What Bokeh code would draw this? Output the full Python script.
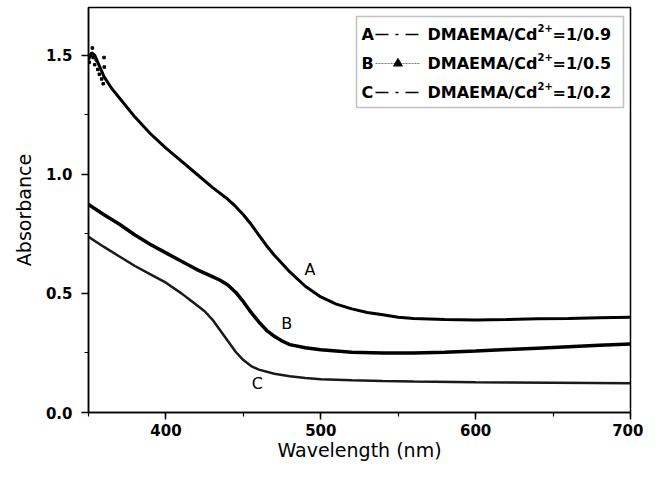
from bokeh.plotting import figure
from bokeh.models import (Legend, LegendItem, Label, BoxAnnotation, Range1d,
                          SingleIntervalTicker, PrintfTickFormatter)
from bokeh.embed import file_html
from bokeh.resources import INLINE

# ---- data ----
wl_a = [350, 352, 354, 356, 358, 360, 365, 370, 380, 390, 400, 410, 420, 430, 440, 445,
        450, 455, 460, 465, 470, 475, 480, 490, 500, 510, 520, 530, 540, 550, 560, 580,
        600, 620, 640, 660, 680, 700]
abs_a = [1.48, 1.51, 1.50, 1.47, 1.44, 1.41, 1.36, 1.32, 1.24, 1.17, 1.11, 1.055, 1.00,
         0.945, 0.895, 0.865, 0.83, 0.79, 0.745, 0.70, 0.66, 0.625, 0.59, 0.53, 0.485,
         0.455, 0.435, 0.42, 0.41, 0.40, 0.395, 0.39, 0.388, 0.39, 0.393, 0.395, 0.398, 0.40]
wl_a_noise = [350.5, 351.5, 352.5, 353.0, 354.0, 355.0, 356.0, 357.0, 358.5, 359.5, 360.0, 360.2]
abs_a_noise = [1.47, 1.50, 1.53, 1.49, 1.46, 1.48, 1.44, 1.42, 1.40, 1.38, 1.49, 1.45]

wl_b = [350, 360, 370, 380, 390, 400, 410, 420, 430, 435, 440, 445, 450, 455, 460, 465,
        470, 475, 480, 490, 500, 520, 540, 560, 580, 600, 620, 640, 660, 680, 700]
abs_b = [0.873, 0.83, 0.79, 0.745, 0.705, 0.67, 0.635, 0.60, 0.57, 0.555, 0.535, 0.505,
         0.465, 0.42, 0.38, 0.345, 0.32, 0.30, 0.285, 0.272, 0.263, 0.253, 0.25, 0.25,
         0.253, 0.258, 0.264, 0.27, 0.276, 0.282, 0.288]

wl_c = [350, 360, 370, 380, 390, 400, 410, 415, 420, 425, 430, 435, 440, 445, 450, 455,
        460, 470, 480, 490, 500, 520, 540, 560, 600, 650, 700]
abs_c = [0.737, 0.695, 0.655, 0.615, 0.58, 0.545, 0.50, 0.475, 0.45, 0.425, 0.39, 0.345,
         0.30, 0.255, 0.22, 0.195, 0.18, 0.163, 0.152, 0.145, 0.14, 0.135, 0.132, 0.13,
         0.127, 0.125, 0.123]

series_letters = ["A", "B", "C"]
legend_main = ["DMAEMA/Cd", "DMAEMA/Cd", "DMAEMA/Cd"]
legend_sup = ["2+", "2+", "2+"]
legend_tail = ["=1/0.9", "=1/0.5", "=1/0.2"]
curve_label_x = [493, 478, 459]
curve_label_y = [0.60, 0.373, 0.12]

X0, X1, Y0, Y1 = 350, 700, 0, 1.70
# frame placement in pixels (canvas coordinates)
FL, FR, FT, FB = 88, 630, 7, 412
SH = 4  # the frame sits this many pixels higher than in the reference


def px_x(px):
    return X0 + (px - FL) * (X1 - X0) / (FR - FL)


def px_y(py):
    # py given in reference pixels
    return Y0 + (FB - (py - SH)) * (Y1 - Y0) / (FB - FT)


W, H = 643, 463
p = figure(width=W, height=H, output_backend="svg", toolbar_location=None,
           x_range=Range1d(X0, X1), y_range=Range1d(Y0, Y1),
           min_border_left=FL, min_border_right=W - FR, min_border_top=FT,
           min_border_bottom=H - FB)
p.background_fill_color = "white"
p.border_fill_color = "white"
p.outline_line_color = "black"
p.outline_line_width = 1.5
p.xgrid.visible = False
p.ygrid.visible = False

for ax in (p.xaxis[0], p.yaxis[0]):
    ax.axis_line_color = "black"
    ax.axis_line_width = 1.5
    ax.major_tick_line_color = "black"
    ax.major_tick_line_width = 1.5
    ax.minor_tick_line_color = "black"
    ax.minor_tick_line_width = 1.2
    ax.major_tick_out = 7
    ax.major_tick_in = 0
    ax.minor_tick_out = 4
    ax.minor_tick_in = 0
    ax.major_label_text_font = "DejaVu Sans"
    ax.major_label_text_font_style = "bold"
    ax.major_label_text_font_size = "15px"
    ax.major_label_text_color = "black"
    ax.axis_label_text_font = "DejaVu Sans"
    ax.axis_label_text_font_style = "normal"
    ax.axis_label_text_font_size = "19px"
    ax.axis_label_text_color = "black"

p.xaxis[0].ticker = SingleIntervalTicker(interval=100, num_minor_ticks=2)
p.yaxis[0].ticker = SingleIntervalTicker(interval=0.5, num_minor_ticks=2)
p.yaxis[0].formatter = PrintfTickFormatter(format="%.1f")
p.yaxis[0].axis_label = "Absorbance"
p.xaxis[0].axis_label = "Wavelength (nm)"
p.xaxis[0].major_label_standoff = 4
p.xaxis[0].axis_label_standoff = 0
p.yaxis[0].major_label_standoff = 9
p.yaxis[0].axis_label_standoff = 8

# curves
p.line(wl_a, abs_a, line_color="black", line_width=3)
p.scatter(wl_a_noise, abs_a_noise, marker="square", size=2.5, color="black")
p.line(wl_b, abs_b, line_color="black", line_width=3.5)
p.line(wl_c, abs_c, line_color="#1a1a1a", line_width=2.5)

for t, x, y in zip(series_letters, curve_label_x, curve_label_y):
    p.add_layout(Label(x=x, y=y, text=t, text_font="DejaVu Sans", text_font_size="16px",
                       text_color="black", text_align="center", text_baseline="middle"))

# legend samples (renderers holding only a NaN point, used for the legend glyphs)
nan = float("nan")
la = p.line(x=[nan], y=[nan], line_color="black", line_width=1.5, line_dash="13 7 3 7")
lb1 = p.line(x=[nan], y=[nan], line_color="#777777", line_width=1, line_dash="2 1")
lb2 = p.scatter(x=[nan], y=[nan], marker="triangle", size=4, color="black")
lc = p.line(x=[nan], y=[nan], line_color="black", line_width=1.3, line_dash="13 7 3 7")

legend = Legend(items=[LegendItem(label="", renderers=[la]),
                       LegendItem(label="", renderers=[lb1, lb2]),
                       LegendItem(label="", renderers=[lc])],
                location=(287, 309), glyph_width=45, glyph_height=22, spacing=7,
                padding=0, margin=0, label_standoff=0, label_width=0, border_line_alpha=0,
                background_fill_alpha=0, label_text_font_size="1px")
p.add_layout(legend)

p.add_layout(BoxAnnotation(left=px_x(356), right=px_x(623), top=px_y(20), bottom=px_y(111),
                           fill_alpha=0, line_color="#333333", line_width=1.5))

row_y = [38, 67, 96]
for i in range(3):
    yc = px_y(row_y[i])
    p.add_layout(Label(x=px_x(361), y=yc, text=series_letters[i], text_font="DejaVu Sans",
                       text_font_style="bold", text_font_size="16px", text_color="black",
                       text_align="left", text_baseline="middle"))
    p.add_layout(Label(x=px_x(427), y=yc, text=legend_main[i], text_font="DejaVu Sans",
                       text_font_style="bold", text_font_size="16px", text_color="black",
                       text_align="left", text_baseline="middle"))
    p.add_layout(Label(x=px_x(537), y=px_y(row_y[i] - 3), text=legend_sup[i],
                       text_font="DejaVu Sans", text_font_style="bold",
                       text_font_size="10px", text_color="black",
                       text_align="left", text_baseline="bottom"))
    p.add_layout(Label(x=px_x(552), y=yc, text=legend_tail[i], text_font="DejaVu Sans",
                       text_font_style="bold", text_font_size="16px", text_color="black",
                       text_align="left", text_baseline="middle"))

open("out.html", "w").write(file_html(p, INLINE))
